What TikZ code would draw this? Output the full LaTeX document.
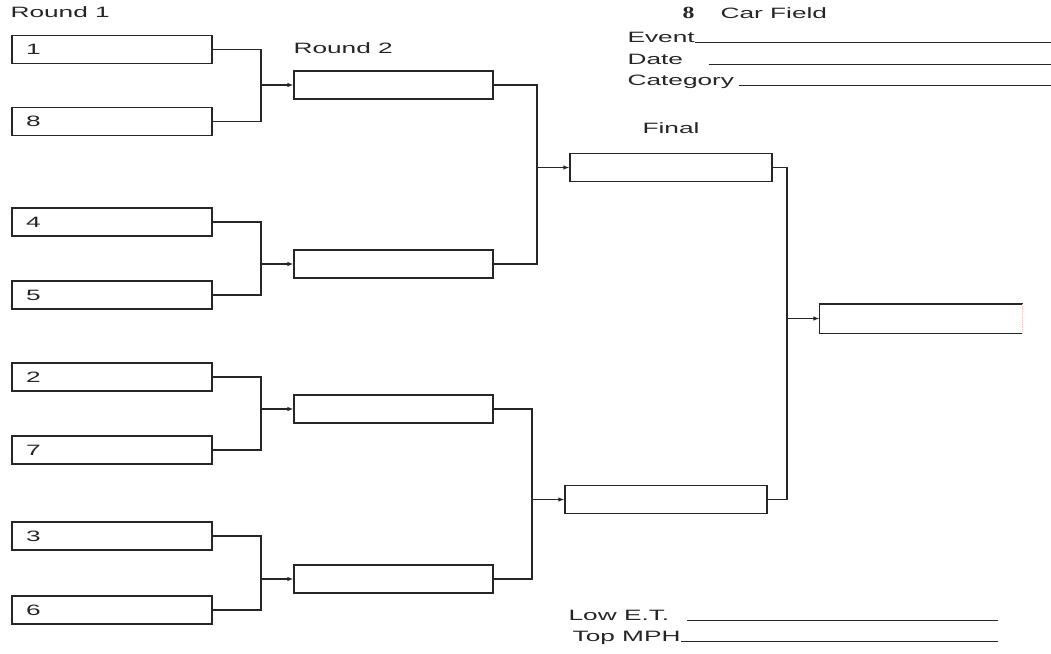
\documentclass[tikz,border=0pt]{standalone}
\usepackage{fontspec}
\usetikzlibrary{arrows.meta}
\setmainfont{Liberation Sans}[FakeStretch=1.75]
\newfontfamily\seedfont{Liberation Serif}[FakeStretch=1.4]
\begin{document}
\begin{tikzpicture}[
x=1pt, y=-1pt,
line width=1.2pt,
color=black!85,
every node/.style={
font=\fontsize{15}{18}\selectfont,
inner sep=0pt
},
seed/.style={
draw,
minimum height=28pt,
text width=172pt,
inner xsep=14pt,
align=left
},
slot/.style={
draw,
minimum height=28pt,
minimum width=#1
},
slot/.default=200pt,
caption/.style={anchor=base west},
blank/.style={line width=0.9pt},
adv/.style={-{Latex[length=6pt,width=4.5pt]}}
]
\useasboundingbox (0,0) rectangle (1051,653);

\coordinate (rim) at (1051,0);
\coordinate (rim2) at (998,0);

\node[caption] (r1) at (10,17) {Round 1};
\node[caption] (r2) at (293,53) {Round 2};
\node[caption] (fin) at (642,133) {Final};

\node[caption, font=\seedfont\bfseries\fontsize{17}{20}\selectfont] (eight) at (682,18) {8};
\node[caption] (field) at (720,18) {Car Field};

\node[caption] (event) at (627,42) {Event};
\node[caption] (date) at (627,64) {Date};
\node[caption] (cat) at (627,85) {Category};

\node[caption] (low) at (568,620) {Low E.T.};
\node[caption] (top) at (572,641) {Top MPH};

\draw[blank] (event.base east) -- (event.base east -| rim);
\draw[blank] ([xshift=25pt]date.base east) -- (date.base east -| rim);
\draw[blank] ([xshift=4pt]cat.base east) -- (cat.base east -| rim);
\draw[blank] ([xshift=17pt]low.base east) -- (low.base east -| rim2);
\draw[blank] (top.base east) -- (top.base east -| rim2);

\node[seed] (s1) at (112,49.5) {1};
\node[seed] (s8) at (112,121.5) {8};
\node[seed] (s4) at (112,222) {4};
\node[seed] (s5) at (112,295) {5};
\node[seed] (s2) at (112,377) {2};
\node[seed] (s7) at (112,450) {7};
\node[seed] (s3) at (112,536) {3};
\node[seed] (s6) at (112,610) {6};

\node[slot=199pt] (q1) at (393.5,85) {};
\node[slot=199pt] (q2) at (393.5,264) {};
\node[slot=199pt] (q3) at (393.5,409) {};
\node[slot=199pt] (q4) at (393.5,579) {};

\node[slot=202pt] (f1) at (671,167.5) {};
\node[slot=202pt] (f2) at (666,499.5) {};

\node[minimum width=202pt, minimum height=28pt] (win) at (921,318.5) {};
\draw (win.north east) -- (win.north west) -- (win.south west) -- (win.south east);
\draw[red!25, densely dotted, line width=0.8pt] (win.north east) -- (win.south east);

\coordinate (j1) at (261,85);
\coordinate (j2) at (261,264);
\coordinate (j3) at (261,409);
\coordinate (j4) at (261,579);
\coordinate (j5) at (537,167.5);
\coordinate (j6) at (532,499.5);
\coordinate (j7) at (787,318.5);

\draw (s1.east) -| (j1) |- (s8.east);
\draw (s4.east) -| (j2) |- (s5.east);
\draw (s2.east) -| (j3) |- (s7.east);
\draw (s3.east) -| (j4) |- (s6.east);
\draw (q1.east) -| (j5) |- (q2.east);
\draw (q3.east) -| (j6) |- (q4.east);
\draw (f1.east) -| (j7) |- (f2.east);

\draw[adv] (j1) -- (q1);
\draw[adv] (j2) -- (q2);
\draw[adv] (j3) -- (q3);
\draw[adv] (j4) -- (q4);
\draw[adv] (j5) -- (f1);
\draw[adv] (j6) -- (f2);
\draw[adv] (j7) -- (win);

\end{tikzpicture}
\end{document}
